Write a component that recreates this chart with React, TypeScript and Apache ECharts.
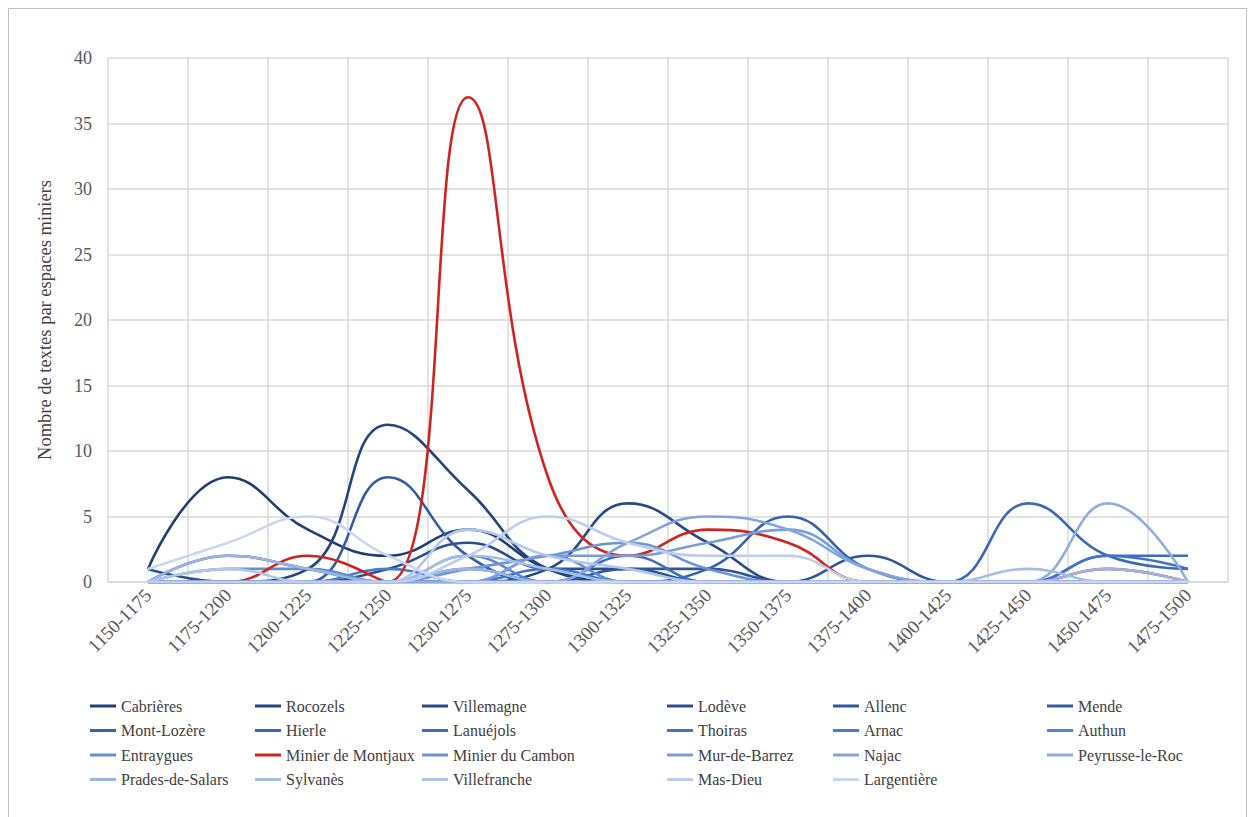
import React, { useEffect, useRef } from "react";
import * as echarts from "echarts";

const categories = [
  "1150-1175", "1175-1200", "1200-1225", "1225-1250", "1250-1275", "1275-1300", "1300-1325",
  "1325-1350", "1350-1375", "1375-1400", "1400-1425", "1425-1450", "1450-1475", "1475-1500",
];

const cabrieres = [1, 8, 4, 2, 4, 1, 0, 0, 0, 0, 0, 0, 0, 0];
const rocozels = [0, 0, 1, 12, 7, 1, 0, 0, 0, 0, 0, 0, 0, 0];
const villemagne = [0, 2, 1, 0, 0, 1, 6, 3, 0, 0, 0, 0, 0, 0];
const lodeve = [1, 0, 0, 1, 3, 1, 1, 0, 0, 0, 0, 0, 0, 0];
const allenc = [0, 0, 0, 0, 0, 0, 1, 1, 0, 2, 0, 0, 0, 0];
const mende = [0, 0, 0, 8, 2, 0, 0, 0, 0, 0, 0, 0, 0, 0];
const montLozere = [0, 0, 0, 0, 0, 0, 0, 1, 5, 1, 0, 0, 0, 0];
const hierle = [0, 0, 0, 0, 0, 0, 0, 0, 0, 0, 0, 6, 2, 1];
const lanuejols = [0, 0, 0, 0, 1, 0, 2, 0, 0, 0, 0, 0, 2, 2];
const thoiras = [0, 0, 0, 0, 0, 1, 0, 0, 0, 0, 0, 0, 2, 1];
const arnac = [0, 0, 0, 1, 0, 0, 0, 0, 0, 0, 0, 0, 0, 0];
const authun = [0, 0, 0, 0, 2, 0, 0, 0, 0, 0, 0, 0, 0, 0];
const entraygues = [0, 1, 1, 0, 0, 2, 0, 0, 0, 0, 0, 0, 0, 0];
const montjaux = [0, 0, 2, 0, 37, 8, 2, 4, 3, 0, 0, 0, 1, 0];
const cambon = [0, 0, 0, 0, 1, 2, 3, 1, 0, 0, 0, 0, 0, 0];
const murDeBarrez = [0, 0, 0, 0, 0, 2, 2, 3, 4, 1, 0, 0, 0, 0];
const najac = [0, 0, 0, 0, 0, 0, 3, 5, 4, 1, 0, 0, 0, 0];
const peyrusse = [0, 0, 0, 0, 0, 0, 0, 0, 0, 0, 0, 0, 6, 0];
const prades = [0, 2, 1, 0, 1, 0, 0, 0, 0, 0, 0, 0, 1, 0];
const sylvanes = [0, 0, 0, 0, 2, 1, 0, 0, 0, 0, 0, 1, 0, 0];
const villefranche = [0, 1, 0, 0, 4, 2, 1, 0, 0, 0, 0, 0, 0, 0];
const masDieu = [0, 0, 0, 0, 2, 5, 3, 2, 2, 0, 0, 0, 0, 0];
const largentiere = [1, 3, 5, 2, 0, 0, 0, 0, 0, 0, 0, 0, 0, 0];

const seriesList: [string, number[]][] = [
  ["Cabrières", cabrieres],
  ["Rocozels", rocozels],
  ["Villemagne", villemagne],
  ["Lodève", lodeve],
  ["Allenc", allenc],
  ["Mende", mende],
  ["Mont-Lozère", montLozere],
  ["Hierle", hierle],
  ["Lanuéjols", lanuejols],
  ["Thoiras", thoiras],
  ["Arnac", arnac],
  ["Authun", authun],
  ["Entraygues", entraygues],
  ["Minier de Montjaux", montjaux],
  ["Minier du Cambon", cambon],
  ["Mur-de-Barrez", murDeBarrez],
  ["Najac", najac],
  ["Peyrusse-le-Roc", peyrusse],
  ["Prades-de-Salars", prades],
  ["Sylvanès", sylvanes],
  ["Villefranche", villefranche],
  ["Mas-Dieu", masDieu],
  ["Largentière", largentiere],
];

const legendColumns = [
  ["Cabrières", "Mont-Lozère", "Entraygues", "Prades-de-Salars"],
  ["Rocozels", "Hierle", "Minier de Montjaux", "Sylvanès"],
  ["Villemagne", "Lanuéjols", "Minier du Cambon", "Villefranche"],
  ["Lodève", "Thoiras", "Mur-de-Barrez", "Mas-Dieu"],
  ["Allenc", "Arnac", "Najac", "Largentière"],
  ["Mende", "Authun", "Peyrusse-le-Roc"],
];
const legendLefts = [85, 250, 417, 662, 828, 1042];

const RED = "#d0231f";
const DARK = [32, 62, 115];
const MID = [64, 116, 200];
const LIGHT = [200, 214, 240];

function lerp(a: number[], b: number[], t: number) {
  const c = a.map((v, i) => Math.round(v + (b[i] - v) * t));
  return `rgb(${c[0]},${c[1]},${c[2]})`;
}

function blueShade(i: number, n: number) {
  const split = 9;
  if (i <= split) return lerp(DARK, MID, i / split);
  return lerp(MID, LIGHT, (i - split) / (n - 1 - split));
}

const FONT = "Liberation Serif";

export default function App() {
  const ref = useRef<HTMLDivElement>(null);
  useEffect(() => {
    document.body.style.margin = "0";
    const chart = echarts.init(ref.current!, null, { renderer: "svg" });
    const blueCount = seriesList.length - 1;
    let bi = 0;
    const series = seriesList.map(([name, data]) => {
      const isRed = name === "Minier de Montjaux";
      const color = isRed ? RED : blueShade(bi++, blueCount);
      return {
        name,
        type: "line",
        data,
        smooth: 0.45,
        showSymbol: false,
        symbol: "none",
        color,
        lineStyle: { width: 2.6, color },
        emphasis: { disabled: true },
      };
    });
    chart.setOption({
      animation: false,
      backgroundColor: "#ffffff",
      textStyle: { fontFamily: FONT },
      graphic: [
        {
          type: "rect",
          shape: { x: 8.5, y: 8.5, width: 1238, height: 830 },
          style: { fill: "none", stroke: "#bfbfbf", lineWidth: 1 },
          silent: true,
        },
      ],
      grid: { left: 108, right: 27, top: 58, bottom: 235, containLabel: false },
      legend: legendColumns.map((col, k) => ({
        orient: "vertical",
        left: legendLefts[k],
        top: 692,
        data: col,
        icon: "rect",
        itemWidth: 26,
        itemHeight: 3,
        itemGap: 6.5,
        selectedMode: false,
        textStyle: { fontFamily: FONT, fontSize: 16, color: "#404040", lineHeight: 18 },
      })),
      xAxis: {
        type: "category",
        data: categories,
        boundaryGap: true,
        axisLine: { show: true, lineStyle: { color: "#d9d9d9", width: 1.5 } },
        axisTick: { show: false },
        splitLine: { show: true, interval: 0, lineStyle: { color: "#d9d9d9", width: 1.5 } },
        axisLabel: {
          interval: 0,
          rotate: 45,
          fontFamily: FONT,
          fontSize: 19,
          color: "#595959",
          margin: 10,
        },
      },
      yAxis: {
        type: "value",
        min: 0,
        max: 40,
        interval: 5,
        name: "Nombre de textes par espaces miniers",
        nameLocation: "middle",
        nameGap: 54,
        nameTextStyle: { fontFamily: FONT, fontSize: 18.5, color: "#404040" },
        axisLine: { show: false },
        axisTick: { show: false },
        splitLine: { show: true, lineStyle: { color: "#d9d9d9", width: 1.5 } },
        axisLabel: { fontFamily: FONT, fontSize: 18, color: "#595959", margin: 16 },
      },
      series,
    });
    return () => chart.dispose();
  }, []);
  return <div ref={ref} style={{ width: 1255, height: 817 }} />;
}
